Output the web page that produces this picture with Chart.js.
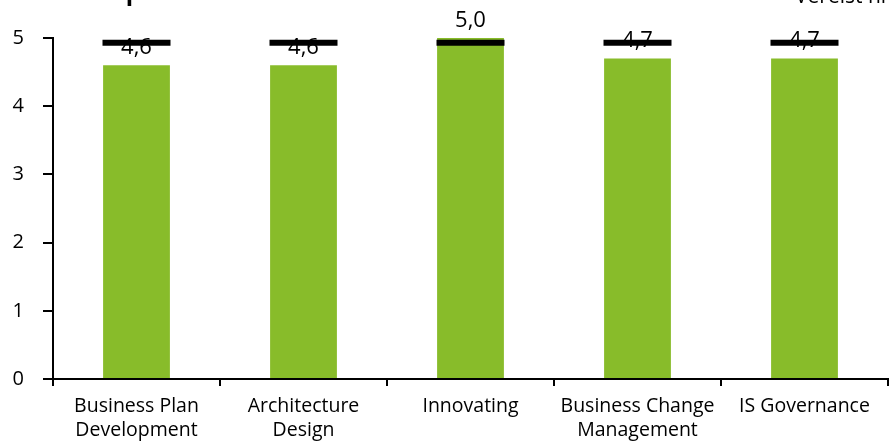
<!DOCTYPE html>
<html>
<head>
<meta charset="utf-8">
<script src="https://cdn.jsdelivr.net/npm/chart.js@4"></script>
<style>
  html, body { margin: 0; padding: 0; background: #fff; }
  #wrap { width: 889px; height: 443px; }
</style>
</head>
<body>
<div id="wrap"><canvas id="c" width="889" height="443"></canvas></div>
<script>
const categories = [
  ['Business Plan', 'Development'],
  ['Architecture', 'Design'],
  ['Innovating'],
  ['Business Change', 'Management'],
  ['IS Governance']
];
const scores = [4.6, 4.6, 5.0, 4.7, 4.7];
const required = [4.93, 4.93, 4.93, 4.93, 4.93];
const scoreLabels = ['4,6', '4,6', '5,0', '4,7', '4,7'];

const FONT = '"Open Sans", "Noto Sans", sans-serif';

// value labels above the bars, drawn before the black markers
const barLabels = {
  id: 'barLabels',
  afterDatasetDraw(chart, args) {
    if (args.index !== 0) return;
    const ctx = chart.ctx;
    ctx.save();
    ctx.font = '22px ' + FONT;
    ctx.fillStyle = '#000';
    ctx.textAlign = 'center';
    ctx.textBaseline = 'alphabetic';
    args.meta.data.forEach((bar, i) => {
      ctx.fillText(scoreLabels[i], bar.x, bar.y - 11);
    });
    ctx.restore();
  }
};

// title and legend text, cut off at the top edge
const topTexts = {
  id: 'topTexts',
  afterDraw(chart) {
    const ctx = chart.ctx;
    ctx.save();
    ctx.fillStyle = '#000';
    ctx.textBaseline = 'alphabetic';
    ctx.font = 'bold 24px ' + FONT;
    ctx.fillText('Competenties', 72, 0);
    ctx.font = '21px ' + FONT;
    ctx.fillText('Vereist niveau', 795, 3);
    ctx.restore();
  }
};

const noPadding = () => ({ left: 0, top: 0, right: 0, bottom: 0 });

new Chart(document.getElementById('c'), {
  type: 'bar',
  data: {
    labels: categories,
    datasets: [
      {
        label: 'Score',
        data: scores,
        backgroundColor: '#88bc2a',
        categoryPercentage: 1,
        barPercentage: 0.4,
        order: 1
      },
      {
        label: 'Vereist niveau',
        type: 'line',
        data: required,
        showLine: false,
        pointStyle: 'line',
        pointRadius: 34,
        pointHoverRadius: 34,
        borderColor: '#000',
        borderWidth: 6,
        clip: false,
        order: 0
      }
    ]
  },
  options: {
    responsive: false,
    animation: false,
    events: [],
    layout: { autoPadding: false, padding: { top: 38, right: 1, left: 0, bottom: 0 } },
    plugins: {
      legend: { display: false },
      tooltip: { enabled: false }
    },
    scales: {
      x: {
        offset: true,
        afterFit(scale) {
          scale.height = 64;
          scale.paddingLeft = 0;
          scale.paddingRight = 0;
          scale.getPadding = noPadding;
        },
        grid: {
          offset: true,
          drawOnChartArea: false,
          tickLength: 7,
          color: '#000',
          lineWidth: 2
        },
        border: { color: '#000', width: 2 },
        ticks: {
          color: '#000',
          font: { family: FONT, size: 19.5, lineHeight: 1.23 },
          maxRotation: 0,
          autoSkip: false,
          padding: 8
        }
      },
      y: {
        min: 0,
        max: 5,
        afterFit(scale) {
          scale.width = 53;
          scale.paddingTop = 0;
          scale.paddingBottom = 0;
          scale.getPadding = noPadding;
        },
        grid: {
          drawOnChartArea: false,
          tickLength: 10,
          color: '#000',
          lineWidth: 2
        },
        border: { color: '#000', width: 2 },
        ticks: {
          stepSize: 1,
          color: '#000',
          font: { family: FONT, size: 20 },
          padding: 19
        }
      }
    }
  },
  plugins: [barLabels, topTexts]
});
</script>
</body>
</html>
